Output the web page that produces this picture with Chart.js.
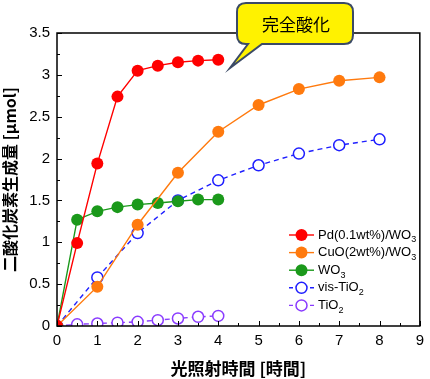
<!DOCTYPE html>
<html><head><meta charset="utf-8">
<script src="https://cdn.jsdelivr.net/npm/chart.js@4"></script>
<style>html,body{margin:0;padding:0;background:#fff}#wrap{width:430px;height:379px}</style>
</head><body><div id="wrap"><canvas id="c" width="430" height="379"></canvas></div>
<script>
const xHalf = [0, 0.5, 1, 1.5, 2, 2.5, 3, 3.5, 4];
const xFull = [0, 1, 2, 3, 4, 5, 6, 7, 8];
const pdWO3 = [0, 0.99, 1.94, 2.74, 3.05, 3.11, 3.15, 3.17, 3.18];
const cuoWO3 = [0, 0.47, 1.21, 1.83, 2.32, 2.64, 2.83, 2.93, 2.97];
const wo3 = [0, 1.27, 1.37, 1.42, 1.45, 1.47, 1.49, 1.51, 1.51];
const visTiO2 = [0, 0.58, 1.11, 1.50, 1.74, 1.92, 2.06, 2.16, 2.23];
const tiO2 = [0, 0.02, 0.03, 0.04, 0.05, 0.07, 0.09, 0.11, 0.12];
const legendLabels = [["Pd(0.1wt%)/WO", "3"], ["CuO(2wt%)/WO", "3"], ["WO", "3"], ["vis-TiO", "2"], ["TiO", "2"]];
const xTitle = "光照射時間 [時間]";
const yTitle = "二酸化炭素生成量 [μmol]";
const calloutText = "完全酸化";

const RED = "#FF0000", ORANGE = "#FF7A0E", GREEN = "#1B991B", BLUE = "#1F1FFF", PURPLE = "#8A3CFF";
function pts(xs, ys) { return xs.map((x, i) => ({x: x, y: ys[i]})); }
function ds(label, xs, ys, color, open) {
  return {
    label: label, data: pts(xs, ys), borderColor: color,
    backgroundColor: open ? "#FFFFFF" : color,
    pointBackgroundColor: open ? "#FFFFFF" : color,
    pointBorderColor: color, pointBorderWidth: open ? 1.5 : 0,
    pointRadius: open ? 5.5 : 6, borderWidth: 1.4,
    borderDash: open ? [5, 4] : [], tension: 0, open: open
  };
}
const datasets = [
  ds(legendLabels[0].join(""), xHalf, pdWO3, RED, false),
  ds(legendLabels[1].join(""), xFull, cuoWO3, ORANGE, false),
  ds(legendLabels[2].join(""), xHalf, wo3, GREEN, false),
  ds(legendLabels[3].join(""), xFull, visTiO2, BLUE, true),
  ds(legendLabels[4].join(""), xHalf, tiO2, PURPLE, true)
];

const framePlugin = {
  id: "frame",
  afterDatasetsDraw(chart) {
    const ctx = chart.ctx, a = chart.chartArea;
    const xs = chart.scales.x, ys = chart.scales.y;
    ctx.save();
    ctx.strokeStyle = "#000"; ctx.lineWidth = 1.5;
    ctx.strokeRect(a.left, a.top, a.right - a.left, a.bottom - a.top);
    ctx.lineWidth = 1;
    for (let v = 0; v <= 9.001; v += 0.5) {
      const p = Math.round(xs.getPixelForValue(v)) + 0.5;
      const len = Math.abs(v - Math.round(v)) < 1e-6 ? 5 : 3;
      ctx.beginPath(); ctx.moveTo(p, a.bottom); ctx.lineTo(p, a.bottom - len); ctx.stroke();
    }
    for (let v = 0; v <= 3.501; v += 0.25) {
      const p = Math.round(ys.getPixelForValue(v)) + 0.5;
      const len = Math.abs(v * 2 - Math.round(v * 2)) < 1e-6 ? 5 : 3;
      ctx.beginPath(); ctx.moveTo(a.left, p); ctx.lineTo(a.left + len, p); ctx.stroke();
    }
    // legend
    const lx = a.left + 232, ly0 = a.top + 202, dy = 17.6;
    chart.data.datasets.forEach((d, i) => {
      const y = ly0 + i * dy;
      ctx.save();
      ctx.strokeStyle = d.borderColor; ctx.lineWidth = 1.4;
      ctx.setLineDash(d.open ? [4, 3] : []);
      ctx.beginPath(); ctx.moveTo(lx, y); ctx.lineTo(lx + 25, y); ctx.stroke();
      ctx.setLineDash([]);
      ctx.beginPath(); ctx.arc(lx + 12.5, y, d.open ? 5.5 : 6, 0, Math.PI * 2);
      if (d.open) { ctx.fillStyle = "#fff"; ctx.fill(); ctx.lineWidth = 1.5; ctx.stroke(); }
      else { ctx.fillStyle = d.borderColor; ctx.fill(); }
      ctx.restore();
      const lab = legendLabels[i];
      ctx.fillStyle = "#000"; ctx.textBaseline = "middle"; ctx.textAlign = "left";
      ctx.font = "13px 'Liberation Sans', Arial, sans-serif";
      ctx.fillText(lab[0], lx + 29, y);
      const w = ctx.measureText(lab[0]).width;
      ctx.font = "9px 'Liberation Sans', Arial, sans-serif";
      ctx.fillText(lab[1], lx + 29 + w, y + 5);
    });
    // callout
    const bx = 237, by = 3, bw = 116, bh = 41, r = 9;
    ctx.beginPath();
    ctx.moveTo(bx + r, by);
    ctx.lineTo(bx + bw - r, by); ctx.quadraticCurveTo(bx + bw, by, bx + bw, by + r);
    ctx.lineTo(bx + bw, by + bh - r); ctx.quadraticCurveTo(bx + bw, by + bh, bx + bw - r, by + bh);
    ctx.lineTo(262, by + bh);
    ctx.lineTo(230, 68);
    ctx.lineTo(248, by + bh);
    ctx.lineTo(bx + r, by + bh); ctx.quadraticCurveTo(bx, by + bh, bx, by + bh - r);
    ctx.lineTo(bx, by + r); ctx.quadraticCurveTo(bx, by, bx + r, by);
    ctx.closePath();
    ctx.fillStyle = "#FFF200"; ctx.fill();
    ctx.strokeStyle = "#3B4A66"; ctx.lineWidth = 2; ctx.stroke();
    ctx.fillStyle = "#000"; ctx.textAlign = "center"; ctx.textBaseline = "middle";
    ctx.font = "17px 'Noto Sans CJK JP', sans-serif";
    ctx.fillText(calloutText, bx + bw / 2 + 1, by + 22);
    ctx.restore();
  }
};

new Chart(document.getElementById("c"), {
  type: "line",
  data: { datasets: datasets },
  options: {
    responsive: false, animation: false, devicePixelRatio: 1,
    layout: { padding: { top: 33, right: 6, left: 0, bottom: 0 } },
    plugins: { legend: { display: false }, tooltip: { enabled: false } },
    scales: {
      x: {
        type: "linear", min: 0, max: 9,
        ticks: { stepSize: 1, color: "#000", font: { size: 15, family: "'Liberation Sans', Arial, sans-serif" }, padding: 6, maxRotation: 0,
          callback: v => String(v) },
        grid: { display: false, drawTicks: false },
        border: { display: false },
        title: { display: true, text: xTitle, color: "#000", font: { size: 17, weight: "bold", family: "'Noto Sans CJK JP', sans-serif" }, padding: { top: 3, bottom: 0 } },
        afterFit(s) { s.height = 53; }
      },
      y: {
        min: 0, max: 3.5,
        ticks: { stepSize: 0.5, color: "#000", font: { size: 15, family: "'Liberation Sans', Arial, sans-serif" }, padding: 7,
          callback: v => String(Math.round(v * 10) / 10) },
        grid: { display: false, drawTicks: false },
        border: { display: false },
        title: { display: true, text: yTitle, color: "#000", font: { size: 16, weight: "bold", family: "'Noto Sans CJK JP', sans-serif" }, padding: { top: 0, bottom: 4 } },
        afterFit(s) { s.width = 57; }
      }
    }
  },
  plugins: [framePlugin]
});
</script>
</body></html>
